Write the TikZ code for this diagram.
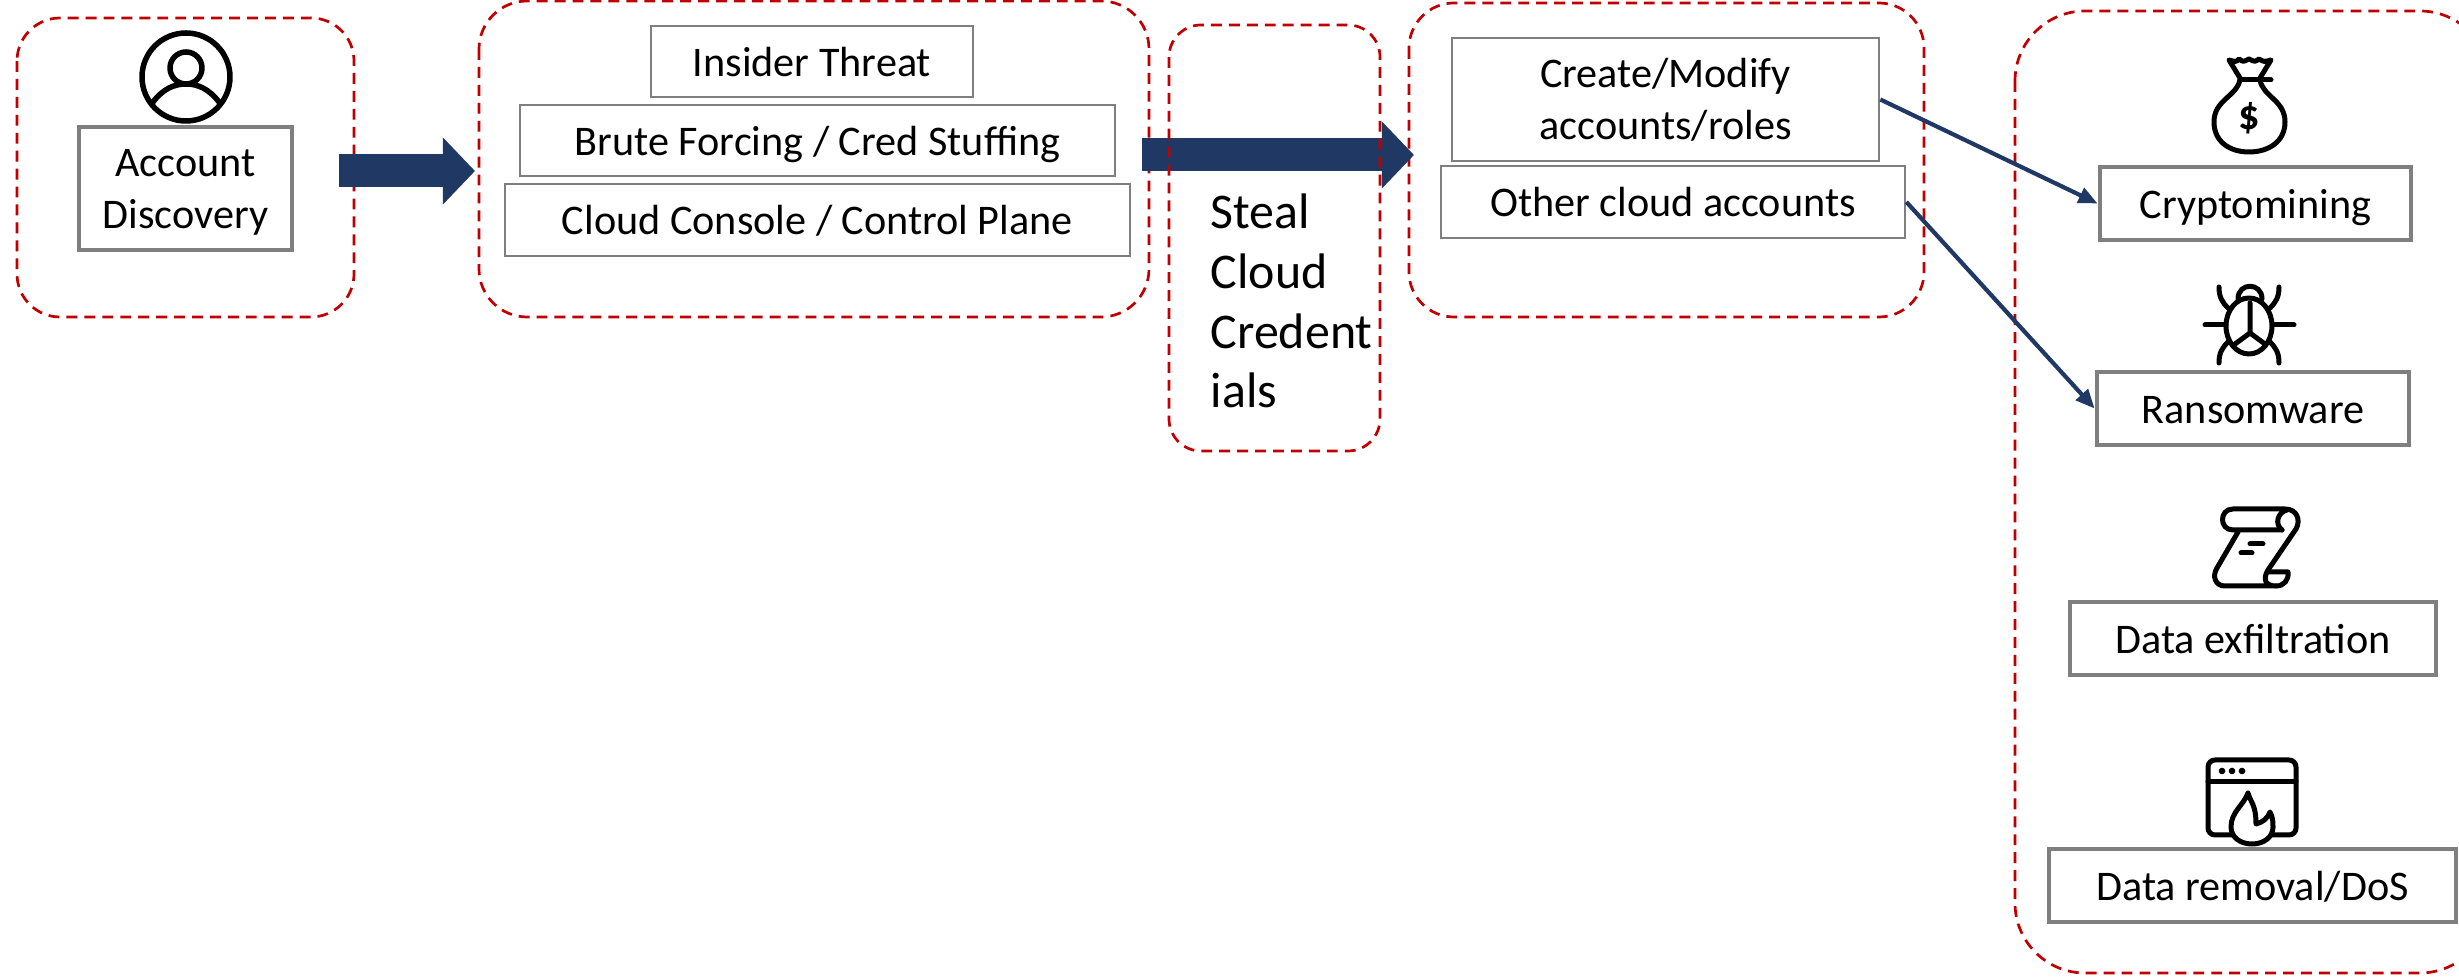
\documentclass[tikz,border=0pt]{standalone}
\usepackage{fontspec}
\setmainfont{Carlito}
\usetikzlibrary{arrows.meta}

\tikzset{
	group/.style={draw=groupred,line width=0.027cm,dash pattern=on 3.1pt off 2pt},
	thinbox/.style={draw=boxgrey,line width=0.025cm,inner sep=0pt,align=center,text height=0.4cm,text depth=0.1cm,font=\fontsize{12}{14.8}\selectfont},
	thickbox/.style={thinbox,line width=0.047cm},
	twoline/.style={text height=0.9cm},
	bigarrow/.style={navy,line width=0.33cm,-{Triangle[length=0.32cm,width=0.65cm]}},
	link/.style={navy,line width=0.042cm,-{Triangle[length=0.19cm,width=0.16cm]}},
	icon/.style={line width=0.05cm,line cap=round,line join=round}
}
\definecolor{groupred}{HTML}{C00000}
\definecolor{boxgrey}{HTML}{7F7F7F}
\definecolor{navy}{HTML}{203864}

\begin{document}
\begin{tikzpicture}[x=0.01cm,y=-0.01cm]
	\useasboundingbox (0,0) rectangle (2459,980);

	\draw[group,rounded corners=0.43cm] (17,18) rectangle (354,317);
	\draw[group,rounded corners=0.48cm] (479,1) rectangle (1149,317);
	\draw[group,rounded corners=0.45cm] (1409,3) rectangle (1924,317);

	% block arrows
	\coordinate (arrowAs) at (339,171);
	\coordinate (arrowAe) at (475,171);
	\coordinate (arrowBs) at (1142,155);
	\coordinate (arrowBe) at (1414,155);
	\draw[bigarrow] (arrowAs) -- (arrowAe);
	\draw[bigarrow] (arrowBs) -- (arrowBe);

	\draw[group,rounded corners=0.32cm] (1169,25) rectangle (1380,451);
	\draw[group,rounded corners=0.7cm] (2015,11) rectangle (2490,973);

	\node[thickbox,twoline,minimum width=2.13cm,minimum height=1.23cm] (acctBox) at (185.5,188.5) {Account\\Discovery};

	\node[thinbox,minimum width=3.22cm,minimum height=0.71cm] (insiderBox) at (812,61.5) {Insider Threat};
	\node[thinbox,minimum width=5.95cm,minimum height=0.71cm] (bruteBox) at (817.5,140.5) {Brute Forcing / Cred Stuffing};
	\node[thinbox,minimum width=6.25cm,minimum height=0.72cm] (consoleBox) at (817.5,220) {Cloud Console / Control Plane};

	\node[anchor=west,inner sep=0pt,align=left,font=\fontsize{14.2}{17}\selectfont] (stealText) at (1210,301) {Steal\\Cloud\\Credent\\ials};

	\node[thinbox,twoline,minimum width=4.27cm,minimum height=1.23cm] (createBox) at (1665.5,99.5) {Create/Modify\\accounts/roles};
	\node[thinbox,minimum width=4.64cm,minimum height=0.72cm] (otherBox) at (1673,202) {Other cloud accounts};

	\node[thickbox,minimum width=3.11cm,minimum height=0.73cm] (miningBox) at (2255.5,203.5) {Cryptomining};
	\node[thickbox,minimum width=3.12cm,minimum height=0.73cm] (ransomBox) at (2253,408.5) {Ransomware};
	\node[thickbox,minimum width=3.66cm,minimum height=0.73cm] (exfilBox) at (2253,638.5) {Data exfiltration};
	\node[thickbox,minimum width=4.07cm,minimum height=0.73cm] (removalBox) at (2252.5,885.5) {Data removal/DoS};

	\draw[link] (createBox.east) -- (miningBox.west);
	\draw[link] (otherBox.east) -- (ransomBox.west);

	% person
	\draw[icon,line width=0.055cm] (186,77) circle (44);
	\draw[icon,line width=0.055cm] (186,68) circle (16);
	\draw[icon,line width=0.055cm] (153,102) .. controls (163,89) and (174,84) .. (186,84) .. controls (198,84) and (209,89) .. (219,102);

	% money bag
	\draw[icon] (2240,80) .. controls (2236,97) and (2214,100) .. (2214,122) .. controls (2214,142) and (2230,152) .. (2249,152) .. controls (2268,152) and (2285,142) .. (2285,122) .. controls (2285,100) and (2263,97) .. (2260,80);
	\draw[icon] (2240,78) -- (2229,60) .. controls (2236,62) .. (2239,59) .. controls (2243,62) .. (2249,59) .. controls (2255,62) .. (2259,59) .. controls (2264,62) .. (2271,60) -- (2260,78);
	\draw[icon] (2240,80) -- (2271,80);
	\node[font=\fontsize{12}{12}\bfseries\selectfont] (dollarSign) at (2249,118) {\$};

	% bug
	\draw[icon] (2249,326) ellipse (23 and 28);
	\draw[icon] (2238,299) .. controls (2238,282) and (2262,282) .. (2262,299);
	\draw[icon] (2250,303) -- (2250,333) -- (2235,344);
	\draw[icon] (2250,333) -- (2265,344);
	\draw[icon] (2219,287) .. controls (2219,297) and (2222,302) .. (2228,308);
	\draw[icon] (2279,287) .. controls (2279,297) and (2276,302) .. (2270,308);
	\draw[icon] (2205,325) -- (2226,325);
	\draw[icon] (2274,325) -- (2294,325);
	\draw[icon] (2219,363) .. controls (2219,353) and (2222,348) .. (2228,342);
	\draw[icon] (2279,363) .. controls (2279,353) and (2276,348) .. (2270,342);

	% scroll
	\draw[icon] (2282,530) -- (2233,530) .. controls (2219,530) and (2219,509) .. (2233,509) -- (2285,509) .. controls (2297,509) and (2301,520) .. (2296,529) -- (2268,570) .. controls (2262,580) and (2266,586) .. (2276,586) -- (2225,586) .. controls (2215,586) and (2212,576) .. (2217,568) -- (2238,532);
	\draw[icon] (2282,530) .. controls (2274,524) and (2278,512) .. (2287,510);
	\draw[icon] (2268,572) -- (2288,572) .. controls (2289,580) and (2284,586) .. (2276,586);
	\draw[icon] (2250,544) -- (2263,544);
	\draw[icon] (2241,553) -- (2252,553);

	% window with flame
	\draw[icon,rounded corners=0.07cm] (2208,760) rectangle (2296,835);
	\draw[icon] (2208,782) -- (2296,782);
	\foreach \dotx in {2222,2232,2242}
		\fill (\dotx,771) circle (3.3);
	\draw[icon,fill=white] (2248,793) .. controls (2251,803) and (2256,805) .. (2256,824) .. controls (2263,822) and (2267,819) .. (2270,812) .. controls (2273,818) and (2273,822) .. (2273,827) .. controls (2273,837) and (2264,844) .. (2252,844) .. controls (2240,844) and (2231,837) .. (2231,827) .. controls (2231,812) and (2243,806) .. (2248,793);
\end{tikzpicture}
\end{document}
